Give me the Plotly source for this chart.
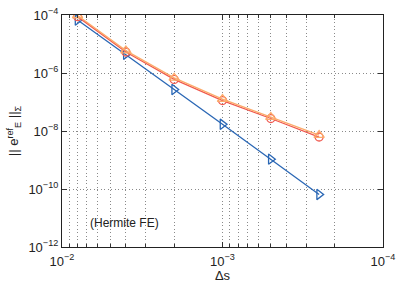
import plotly.graph_objects as go

ds = [8e-3, 4e-3, 2e-3, 1e-3, 5e-4, 2.5e-4]
err_blue = [6.7e-5, 4.4e-6, 2.7e-7, 1.7e-8, 1.07e-9, 6.5e-11]
err_red = [8.8e-5, 5.3e-6, 6.0e-7, 1.12e-7, 2.7e-8, 6.2e-9]
err_orange = [9.6e-5, 5.9e-6, 6.8e-7, 1.26e-7, 3.0e-8, 7.2e-9]

xticks = [1e-2, 1e-3, 1e-4]
xticktext = ["10<sup>\u22122</sup>", "10<sup>\u22123</sup>", "10<sup>\u22124</sup>"]
yticks = [1e-4, 1e-6, 1e-8, 1e-10, 1e-12]
yticktext = ["10<sup>\u22124</sup>", "10<sup>\u22126</sup>", "10<sup>\u22128</sup>",
             "10<sup>\u221210</sup>", "10<sup>\u221212</sup>"]

minor_x = [m * 10.0 ** e for e in (-3, -4) for m in range(2, 10)]

BLUE = "#2a67b5"
RED = "#f0584e"
ORANGE = "#fcab6a"
GRID = "#8a8a8a"
DASH = "1px,2.5px"

fig = go.Figure()
fig.add_trace(go.Scatter(x=ds, y=err_blue, mode="lines+markers",
                         line=dict(color=BLUE, width=1.3),
                         marker=dict(symbol="triangle-right-open", size=9,
                                     color=BLUE, line=dict(width=1.3))))
fig.add_trace(go.Scatter(x=ds, y=err_red, mode="lines+markers",
                         line=dict(color=RED, width=1.3),
                         marker=dict(symbol="circle-open", size=8,
                                     color=RED, line=dict(width=1.3))))
fig.add_trace(go.Scatter(x=ds, y=err_orange, mode="lines+markers",
                         line=dict(color=ORANGE, width=1.3),
                         marker=dict(symbol="triangle-up-open", size=9,
                                     color=ORANGE, line=dict(width=1.3))))

fig.add_annotation(x=-2.39, y=-11.17, xref="x", yref="y", text="(Hermite FE)",
                   showarrow=False, font=dict(size=12, color="#222"))

axis_common = dict(
    type="log", showline=True, linecolor="#222", linewidth=1.2, mirror="allticks",
    ticks="inside", ticklen=5, tickcolor="#333", automargin=False,
    ticklabeloverflow="allow",
    showgrid=True, gridcolor=GRID, griddash=DASH, gridwidth=1,
    zeroline=False, tickfont=dict(family="Liberation Sans, Arial", size=13, color="#222"),
)

fig.update_xaxes(**axis_common, range=[-2, -4], tickmode="array",
                 tickvals=xticks, ticktext=xticktext, ticklabelstandoff=2,
                 minor=dict(tickmode="array", tickvals=minor_x, ticks="inside", ticklen=3,
                            tickcolor="#333", showgrid=True, gridcolor=GRID,
                            griddash=DASH, gridwidth=1),
                 title=dict(text="\u0394s", font=dict(family="Liberation Sans, Arial", size=13, color="#222"),
                            standoff=0))
fig.update_yaxes(**axis_common, range=[-12, -4], tickmode="array",
                 tickvals=yticks, ticktext=yticktext,
                 title=dict(text="|| e<sup>ref</sup><sub>E</sub> ||<sub>\u03a3</sub>",
                            font=dict(family="Liberation Sans, Arial", size=13, color="#222"),
                            standoff=6))

fig.update_layout(width=399, height=283, margin=dict(l=62, r=16, t=15, b=36),
                  showlegend=False, plot_bgcolor="white", paper_bgcolor="white",
                  font=dict(family="Liberation Sans, Arial"))

fig.write_html("out.html", config={"displayModeBar": False},
               post_script="document.body.style.margin='0';")
